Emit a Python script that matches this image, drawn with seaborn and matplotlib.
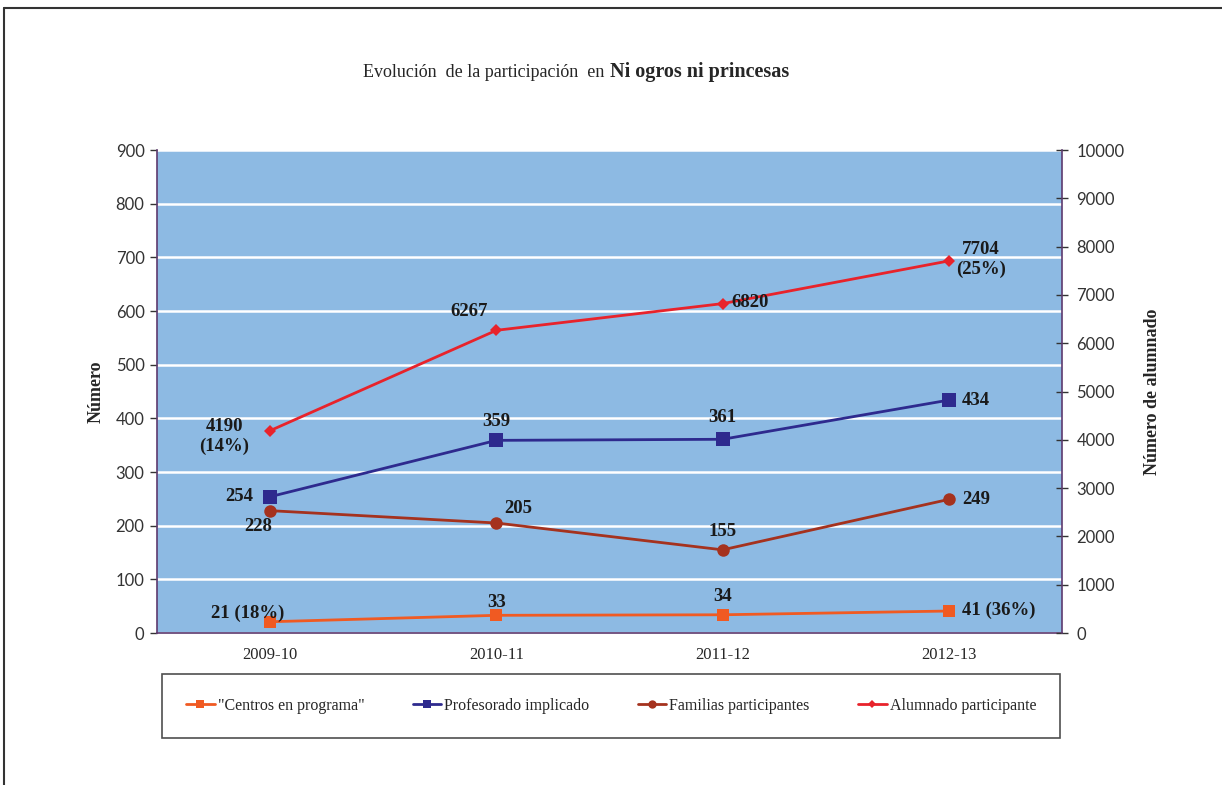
import numpy as np
import pandas as pd
import matplotlib
matplotlib.use("Agg")
import matplotlib.pyplot as plt
from matplotlib.lines import Line2D
import seaborn as sns

# datos
cursos = ["2009-10", "2010-11", "2011-12", "2012-13"]
centros = [21, 33, 34, 41]
profesorado = [254, 359, 361, 434]
familias = [228, 205, 155, 249]
alumnado = [4190, 6267, 6820, 7704]

etiq_centros = ["21 (18%)", "33", "34", "41 (36%)"]
etiq_profesorado = ["254", "359", "361", "434"]
etiq_familias = ["228", "205", "155", "249"]
etiq_alumnado = ["4190\n(14%)", "6267", "6820", "7704\n(25%)"]

nombres = ['"Centros en programa"', "Profesorado implicado",
           "Familias participantes", "Alumnado participante"]
colores = ["#F05A22", "#2E2A8E", "#A5321E", "#E8232B"]

sns.set_style("white")
plt.rcParams["font.family"] = ["Liberation Serif", "DejaVu Serif"]

pos = np.arange(len(cursos))
df = pd.DataFrame({"pos": pos, "centros": centros, "profesorado": profesorado,
                   "familias": familias, "alumnado": alumnado})

fig = plt.figure(figsize=(12.22, 7.85), dpi=100)
ax = fig.add_axes([0.1285, 0.1936, 0.7405, 0.6153])
ax2 = ax.twinx()

fondo = "#8DBAE3"
ax.set_facecolor(fondo)
ax2.patch.set_visible(False)
ax.set_zorder(0)
ax2.set_zorder(1)

# lineas eje izquierdo (ax2 comparte la escala 0-900)
sns.lineplot(data=df, x="pos", y="centros", ax=ax2, color=colores[0], marker="s",
             markersize=8, markeredgewidth=0, linewidth=2)
sns.lineplot(data=df, x="pos", y="profesorado", ax=ax2, color=colores[1], marker="s",
             markersize=10, markeredgewidth=0, linewidth=2)
sns.lineplot(data=df, x="pos", y="familias", ax=ax2, color=colores[2], marker="o",
             markersize=9, markeredgewidth=0, linewidth=2)
ax2.set_ylim(0, 900)

ax3 = ax.twinx()
ax3.patch.set_visible(False)
ax3.set_zorder(2)
sns.lineplot(data=df, x="pos", y="alumnado", ax=ax3, color=colores[3], marker="D",
             markersize=6, markeredgewidth=0, linewidth=2)
ax3.set_ylim(0, 10000)

for a in (ax, ax2, ax3):
    a.set_xlim(-0.5, 3.5)
    a.set_xlabel("")
    a.set_ylabel("")

ax.set_ylim(0, 900)
ax.set_yticks(np.arange(0, 901, 100))
ax.grid(axis="y", color="white", linewidth=1.8)
ax.set_axisbelow(True)
ax.set_xticks(pos)
ax.set_xticklabels(cursos, fontsize=12)
ax.tick_params(axis="x", length=0, pad=10)
ax.tick_params(axis="y", direction="out", length=5, width=1, color="#333333",
               labelsize=12, labelfontfamily="Lato", labelcolor="#333333", pad=4)
ax.set_ylabel("Número", fontsize=13, fontweight="bold", labelpad=8)

ax2.set_yticks([])
ax2.tick_params(axis="x", length=0, labelbottom=False)
ax3.set_yticks(np.arange(0, 10001, 1000))
ax3.tick_params(axis="y", direction="inout", length=9, width=1, color="#333333",
                labelsize=12, labelfontfamily="Lato", labelcolor="#333333", pad=6)
ax3.tick_params(axis="x", length=0, labelbottom=False)
ax3.set_ylabel("Número de alumnado", fontsize=13, fontweight="bold", labelpad=14)

espina = "#5E3A6E"
for a in (ax, ax2, ax3):
    for s in a.spines.values():
        s.set_visible(False)
for nombre in ("left", "bottom"):
    ax.spines[nombre].set_visible(True)
    ax.spines[nombre].set_color(espina)
    ax.spines[nombre].set_linewidth(1.2)
ax3.spines["right"].set_visible(True)
ax3.spines["right"].set_color(espina)
ax3.spines["right"].set_linewidth(1.2)

# etiquetas de datos
estilo = dict(fontsize=13.5, fontweight="bold", color="#1a1a1a",
              textcoords="offset pixels", zorder=5)


def poner(a, valores, textos, desplaz, alineacion):
    for i, (v, t) in enumerate(zip(valores, textos)):
        a.annotate(t, (pos[i], v), xytext=desplaz[i], ha=alineacion[i],
                   va="center", multialignment="center", **estilo)


poner(ax3, alumnado, etiq_alumnado,
      [(-46, -6), (-27, 19), (9, 1), (32, 1)],
      ["center", "center", "left", "center"])
poner(ax2, profesorado, etiq_profesorado,
      [(-17, 0), (0, 19), (0, 22), (13, 0)],
      ["right", "center", "center", "left"])
poner(ax2, familias, etiq_familias,
      [(-12, -16), (22, 15), (0, 18), (13, 0)],
      ["center", "center", "center", "left"])
poner(ax2, centros, etiq_centros,
      [(-22, 8), (0, 13), (0, 18), (13, 1)],
      ["center", "center", "center", "left"])

# titulo
fig.text(0.4985, 0.908, "Evolución  de la participación  en ", ha="right",
         va="center", fontsize=13)
fig.text(0.4995, 0.908, "Ni ogros ni princesas", ha="left", va="center",
         fontsize=14.5, fontweight="bold")

# leyenda
manejadores = [
    Line2D([], [], color=colores[0], marker="s", markersize=6, markeredgewidth=0, linewidth=2),
    Line2D([], [], color=colores[1], marker="s", markersize=6, markeredgewidth=0, linewidth=2),
    Line2D([], [], color=colores[2], marker="o", markersize=6, markeredgewidth=0, linewidth=2),
    Line2D([], [], color=colores[3], marker="D", markersize=4, markeredgewidth=0, linewidth=2),
]
ley = fig.legend(manejadores, nombres, loc="center",
                 bbox_to_anchor=(0.1326, 0.0573, 0.735, 0.0866), mode="expand",
                 ncol=4, fontsize=11.5, frameon=True, fancybox=False,
                 handlelength=1.8, handletextpad=0.2, columnspacing=0.8,
                 borderpad=1.5, borderaxespad=0.0)
ley.get_frame().set_edgecolor("#222222")
ley.get_frame().set_linewidth(1.2)

# marco exterior recortado
fig.add_artist(Line2D([0.0033, 1.0], [0.9898, 0.9898], color="#333333", linewidth=1.5,
                      transform=fig.transFigure))
fig.add_artist(Line2D([0.0033, 0.0033], [0.0, 0.9898], color="#333333", linewidth=1.5,
                      transform=fig.transFigure))

fig.savefig("out.png", dpi=100, facecolor="white")
